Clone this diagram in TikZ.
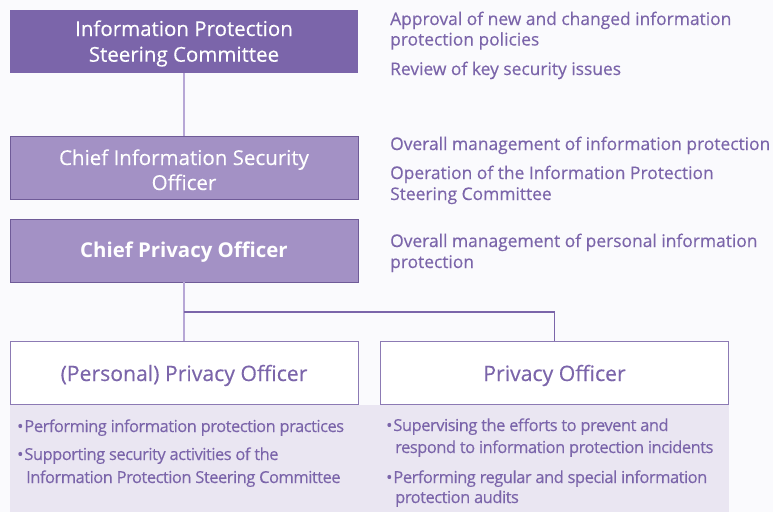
\documentclass[tikz,border=0pt]{standalone}
\usepackage{fontspec}
\setmainfont{Open Sans}
\newfontfamily\medfont[FakeBold=0.35]{Open Sans}
\newfontfamily\condfont[LetterSpace=-3,FakeBold=0.35]{Open Sans}
\definecolor{bgc}{HTML}{FAFAFD}
\definecolor{darkbox}{HTML}{7B65AA}
\definecolor{midbox}{HTML}{A391C5}
\definecolor{midborder}{HTML}{6F5B98}
\definecolor{txtp}{HTML}{7B65AA}
\definecolor{panelc}{HTML}{EAE6F2}
\definecolor{lightln}{HTML}{B7A7D6}
\definecolor{whiteborder}{HTML}{8C7AB4}
\begin{document}
\begin{tikzpicture}[x=1pt,y=-1pt,
  darkrect/.style={draw=none,fill=darkbox,minimum width=348pt,minimum height=63pt,inner sep=0pt},
  midrect/.style={draw=midborder,line width=0.8pt,fill=midbox,minimum width=348pt,minimum height=63pt,inner sep=0pt},
  whiterect/.style={draw=whiteborder,line width=1pt,fill=white,minimum width=348pt,minimum height=63pt,inner sep=0pt},
  headw/.style={anchor=base,text=white,inner sep=0pt,font=\medfont\fontsize{20.5}{24}\selectfont},
  headb/.style={anchor=base,text=white,inner sep=0pt,font=\fontsize{20.4}{24}\selectfont\bfseries},
  headp/.style={anchor=base,text=txtp,inner sep=0pt,font=\medfont\fontsize{21.2}{24}\selectfont},
  desc/.style={anchor=base west,text=txtp,inner sep=0pt,font=\medfont\fontsize{17.4}{20}\selectfont},
  bul/.style={anchor=base west,text=txtp,inner sep=0pt,font=\condfont\fontsize{16.5}{20}\selectfont},
  lightline/.style={draw=lightln,line width=1.3pt},
  darkline/.style={draw=darkbox,line width=1.1pt}]
\path[fill=bgc] (0,0) rectangle (773,512);
\useasboundingbox (0,0) rectangle (773,512);
% panel
\path[fill=panelc] (10,405) rectangle (729,512);
% boxes
\node[darkrect] (ipsc) at (184,41.5) {};
\node[midrect] (ciso) at (184,168) {};
\node[midrect] (cpo) at (184,250.5) {};
\node[whiterect] (ppo) at (184,373) {};
\node[whiterect] (po) at (554.5,373) {};
\coordinate (jn) at (184,312);
% connectors
\draw[lightline] (ipsc.south) -- (ciso.north);
\draw[lightline] (cpo.south) -- (ppo.north);
\draw[darkline] (jn) -| (po.north);
% box texts
\node[headw] (t1a) at (184,36) {Information Protection};
\node[headw] (t1b) at (184,61.7) {Steering Committee};
\node[headw] (t2a) at (184,165) {Chief Information Security};
\node[headw] (t2b) at (184,190) {Officer};
\node[headb] (t3) at (184,257.7) {Chief Privacy Officer};
\node[headp] (t4) at (184,381) {(Personal) Privacy Officer};
\node[headp] (t5) at (554.5,381) {Privacy Officer};
% right descriptions
\node[desc] (d1) at (390,25) {Approval of new and changed information};
\node[desc] (d2) at (390,45.5) {protection policies};
\node[desc] (d3) at (390,75) {Review of key security issues};
\node[desc] (d4) at (390,150) {Overall management of information protection};
\node[desc] (d5) at (390,179) {Operation of the Information Protection};
\node[desc] (d6) at (390,200) {Steering Committee};
\node[desc] (d7) at (390,247) {Overall management of personal information};
\node[desc] (d8) at (390,268) {protection};
% bullets left
\node[bul] (b1) at (17,432) {\textbullet\kern1pt Performing information protection practices};
\node[bul] (b2) at (17,460) {\textbullet\kern1pt Supporting security activities of the};
\node[bul] (b3) at (26,483) {Information Protection Steering Committee};
% bullets right
\node[bul] (b4) at (386,431) {\textbullet\kern1pt Supervising the efforts to prevent and};
\node[bul] (b5) at (395,453) {respond to information protection incidents};
\node[bul] (b6) at (386,483) {\textbullet\kern1pt Performing regular and special information};
\node[bul] (b7) at (395,503) {protection audits};
\end{tikzpicture}
\end{document}
